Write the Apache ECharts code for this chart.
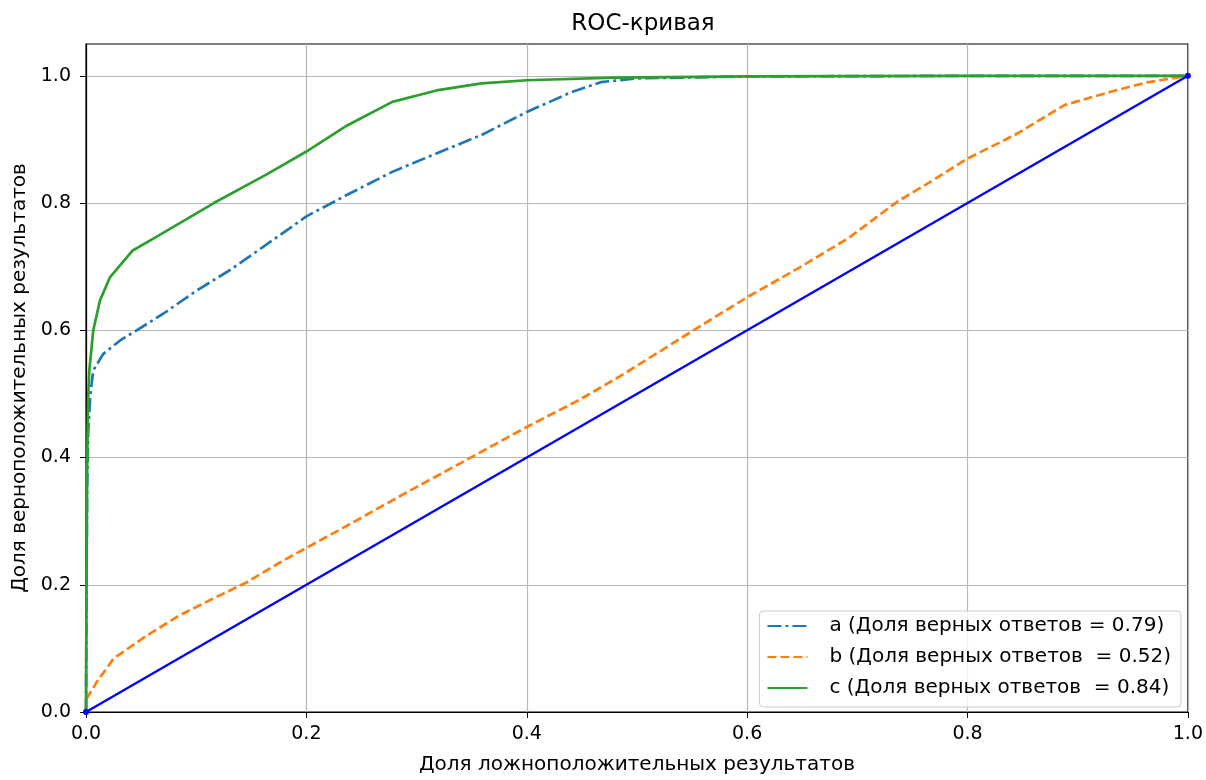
<!DOCTYPE html>
<html>
<head>
<meta charset="utf-8">
<title>ROC-кривая</title>
<script src="https://cdn.jsdelivr.net/npm/echarts@6/dist/echarts.min.js"></script>
<style>
    html, body { margin: 0; padding: 0; background: #fff; }
    #chart { width: 1206px; height: 780px; }
</style>
</head>
<body>
<div id="chart"></div>
<script>
// Кривая a (доля ложно-/верноположительных)
const aFpr = [0, 0.0005, 0.001, 0.002, 0.004, 0.0066, 0.0157, 0.031, 0.046, 0.07, 0.1, 0.13, 0.164, 0.2, 0.237, 0.278, 0.318, 0.359, 0.4, 0.44, 0.467, 0.5, 0.6, 0.8, 1.0];
const aTpr = [0, 0.2, 0.35, 0.44, 0.5, 0.537, 0.563, 0.584, 0.6, 0.626, 0.662, 0.694, 0.735, 0.779, 0.813, 0.849, 0.878, 0.907, 0.943, 0.974, 0.99, 0.996, 0.999, 1.0, 1.0];

// Кривая b
const bFpr = [0, 0.0006, 0.0097, 0.025, 0.055, 0.085, 0.115, 0.146, 0.176, 0.2, 0.236, 0.296, 0.345, 0.4, 0.447, 0.484, 0.556, 0.6, 0.647, 0.692, 0.737, 0.767, 0.8, 0.843, 0.888, 0.934, 0.964, 1.0];
const bTpr = [0, 0.021, 0.047, 0.084, 0.12, 0.152, 0.178, 0.204, 0.235, 0.258, 0.292, 0.35, 0.396, 0.448, 0.49, 0.527, 0.605, 0.652, 0.698, 0.745, 0.803, 0.834, 0.87, 0.907, 0.954, 0.977, 0.99, 1.0];

// Кривая c
const cFpr = [0, 0.0005, 0.001, 0.002, 0.003, 0.0066, 0.0127, 0.0217, 0.042, 0.065, 0.116, 0.164, 0.2, 0.237, 0.278, 0.318, 0.359, 0.4, 0.48, 0.6, 0.8, 1.0];
const cTpr = [0, 0.2, 0.38, 0.495, 0.537, 0.6, 0.647, 0.683, 0.725, 0.748, 0.8, 0.845, 0.881, 0.922, 0.959, 0.977, 0.988, 0.993, 0.997, 0.999, 1.0, 1.0];

// Диагональ случайного классификатора
const diagX = [0, 1];
const diagY = [0, 1];

// Метки осей
const xTicks = [0, 0.2, 0.4, 0.6, 0.8, 1.0];
const yTicks = [0, 0.2, 0.4, 0.6, 0.8, 1.0];

const seriesNames = [
    'a (Доля верных ответов = 0.79)',
    'b (Доля верных ответов  = 0.52)',
    'c (Доля верных ответов  = 0.84)'
];

function pairs(xs, ys) {
    return xs.map(function(x, i) { return [x, ys[i]]; });
}

const FONT = 'DejaVu Sans';
const chart = echarts.init(document.getElementById('chart'));

const option = {
    animation: false,
    backgroundColor: '#fff',
    title: {
        text: 'ROC-кривая',
        left: 638,
        textAlign: 'center',
        top: 8,
        textStyle: { fontFamily: FONT, fontSize: 23, fontWeight: 'normal', color: '#000' }
    },
    grid: {
        left: 86,
        right: 16,
        top: 44,
        bottom: 63,
        show: true,
        borderColor: '#000',
        borderWidth: 1.2,
        backgroundColor: 'transparent'
    },
    legend: {
        data: seriesNames,
        orient: 'vertical',
        right: 25,
        bottom: 73,
        itemWidth: 40,
        itemHeight: 14,
        itemGap: 11,
        padding: [5, 10, 9, 7],
        backgroundColor: 'rgba(255,255,255,0.8)',
        borderColor: '#cccccc',
        borderWidth: 1,
        borderRadius: 4,
        itemStyle: { opacity: 0 },
        textStyle: { fontFamily: FONT, fontSize: 20, color: '#000', padding: [0, 0, 0, 17], lineHeight: 20 }
    },
    xAxis: {
        type: 'value',
        min: 0,
        max: 1,
        interval: 0.2,
        name: 'Доля ложноположительных результатов',
        nameLocation: 'middle',
        nameGap: 43,
        nameTextStyle: { fontFamily: FONT, fontSize: 20, color: '#000' },
        axisLine: { show: true, onZero: false, lineStyle: { color: '#000', width: 1.2 } },
        axisTick: { show: true, length: 6, customValues: xTicks, lineStyle: { color: '#000' } },
        axisLabel: {
            fontFamily: FONT, fontSize: 19, color: '#000', margin: 13,
            customValues: xTicks,
            formatter: function(v) { return v.toFixed(1); }
        },
        splitLine: { show: true, lineStyle: { color: '#b8b8b8', width: 1.2 } }
    },
    yAxis: {
        type: 'value',
        min: 0,
        max: 1.05,
        interval: 0.2,
        name: 'Доля верноположительных результатов',
        nameLocation: 'middle',
        nameGap: 55,
        nameTextStyle: { fontFamily: FONT, fontSize: 20, color: '#000' },
        axisLine: { show: true, onZero: false, lineStyle: { color: '#000', width: 1.2 } },
        axisTick: { show: true, length: 6, customValues: yTicks, lineStyle: { color: '#000' } },
        axisLabel: {
            fontFamily: FONT, fontSize: 19, color: '#000', margin: 15,
            customValues: yTicks,
            formatter: function(v) { return v.toFixed(1); }
        },
        splitLine: { show: true, lineStyle: { color: '#b8b8b8', width: 1.2 } }
    },
    series: [
        {
            name: seriesNames[0],
            type: 'line',
            symbol: 'none',
            data: pairs(aFpr, aTpr),
            lineStyle: { color: '#1f77b4', width: 2.7, type: [14, 4, 3, 4] },
            itemStyle: { color: '#1f77b4' }
        },
        {
            name: seriesNames[1],
            type: 'line',
            symbol: 'none',
            data: pairs(bFpr, bTpr),
            lineStyle: { color: '#ff7f0e', width: 2.7, type: [9, 4] },
            itemStyle: { color: '#ff7f0e' }
        },
        {
            name: seriesNames[2],
            type: 'line',
            symbol: 'none',
            data: pairs(cFpr, cTpr),
            lineStyle: { color: '#2ca02c', width: 2.7 },
            itemStyle: { color: '#2ca02c' }
        },
        {
            name: 'diag',
            type: 'line',
            symbol: 'circle',
            symbolSize: 6,
            clip: false,
            data: pairs(diagX, diagY),
            lineStyle: { color: '#0000ff', width: 2.3 },
            itemStyle: { color: '#0000ff' }
        }
    ]
};

chart.setOption(option);
</script>
</body>
</html>
